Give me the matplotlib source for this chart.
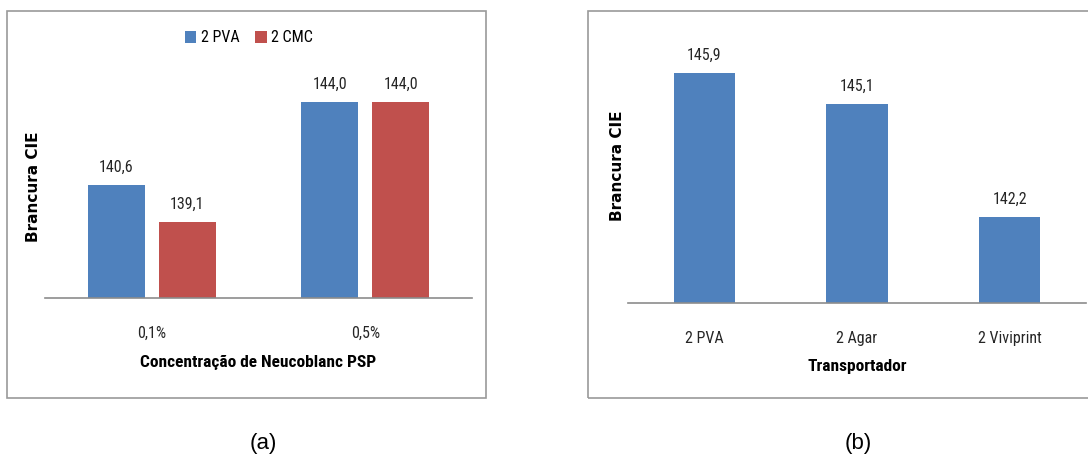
import matplotlib
matplotlib.use("Agg")
import matplotlib.pyplot as plt
from matplotlib import font_manager
from matplotlib.patches import Rectangle

# Data
conc_labels = ["0,1%", "0,5%"]
pva_values = [140.6, 144.0]
cmc_values = [139.1, 144.0]
series_names = ["2 PVA", "2 CMC"]

carrier_labels = ["2 PVA", "2 Agar", "2 Viviprint"]
carrier_values = [145.9, 145.1, 142.2]

BLUE = "#4F81BD"
RED = "#C0504D"
W, H = 1088, 458

# Prefer a narrow sans face for the chart text when one is installed
installed = {f.name for f in font_manager.fontManager.ttflist}
narrow_names = [n for n in ("Liberation Sans Narrow", "Roboto Condensed",
                            "Open Sans Condensed", "Noto Sans Condensed")
                if n in installed]
NARROW = narrow_names[:1] + ["Roboto", "DejaVu Sans"]
HAS_NARROW = bool(narrow_names)
SMALL = 11.5 if HAS_NARROW else 9.5
LABEL = 12.5 if HAS_NARROW else 10.5

fig = plt.figure(figsize=(W / 100, H / 100), dpi=100)


def px_axes(x0, x1, y_top, y_bot):
    return fig.add_axes([x0 / W, 1 - y_bot / H, (x1 - x0) / W, (y_bot - y_top) / H])


def frame(x0, x1, y0, y1):
    fig.patches.append(Rectangle((x0 / W, 1 - y1 / H), (x1 - x0) / W, (y1 - y0) / H,
                                 transform=fig.transFigure, fill=False,
                                 edgecolor="#9A9A9A", linewidth=1.2))


def style(ax):
    for s in ("top", "right", "left"):
        ax.spines[s].set_visible(False)
    ax.spines["bottom"].set_color("#8C8C8C")
    ax.spines["bottom"].set_linewidth(1.2)
    ax.set_yticks([])
    ax.tick_params(axis="x", length=0, pad=20, labelsize=SMALL, labelcolor="#262626")
    for t in ax.get_xticklabels():
        t.set_family(NARROW)


def label_bars(ax, bars, values):
    for b, v in zip(bars, values):
        ax.annotate(f"{v:.1f}".replace(".", ","),
                    (b.get_x() + b.get_width() / 2, b.get_height() + ax.get_ylim()[0]),
                    xytext=(0, 13), textcoords="offset points",
                    ha="center", va="center", fontsize=SMALL,
                    family=NARROW, color="#262626")


# Panel (a)
frame(7, 486, 11, 398)
ax1 = px_axes(45, 472, 53, 298)
base1 = 136
ax1.set_ylim(base1, 146)
ax1.set_xlim(-0.5, 1.5)
x1 = list(range(len(conc_labels)))
bw, off = 0.267, 0.167
b_pva = ax1.bar([x - off for x in x1], [v - base1 for v in pva_values], bw,
                bottom=base1, color=BLUE, label=series_names[0])
b_cmc = ax1.bar([x + off for x in x1], [v - base1 for v in cmc_values], bw,
                bottom=base1, color=RED, label=series_names[1])
ax1.set_xticks(x1, conc_labels)
style(ax1)
label_bars(ax1, b_pva, pva_values)
label_bars(ax1, b_cmc, cmc_values)
ax1.set_xlabel("Concentração de Neucoblanc PSP", fontsize=LABEL, fontweight="bold",
               family=NARROW)
ax1.xaxis.set_label_coords(0.5, -(363 - 298) / (298 - 53))
ax1.xaxis.label.set_va("center")
ax1.set_ylabel("Brancura CIE", fontsize=11, fontweight="bold", family="DejaVu Sans")
ax1.yaxis.set_label_coords(-(45 - 34) / 427, (298 - 187) / (298 - 53))
ax1.yaxis.label.set_va("center")
ax1.legend(loc="center", bbox_to_anchor=((249 - 45) / 427, (298 - 38) / (298 - 53)),
           ncol=2, frameon=False, handlelength=0.7, handleheight=0.7,
           handletextpad=0.3, columnspacing=1.0,
           prop={"family": NARROW, "size": SMALL})
fig.text(263 / W, 1 - 443 / H, "(a)", ha="center", va="center", fontsize=16,
         family="Liberation Sans")

# Panel (b)
frame(588, 1095, 11, 398)
ax2 = px_axes(628, 1086, 69, 303)
base2 = 140
ax2.set_ylim(base2, 146)
ax2.set_xlim(-0.5, 2.5)
x2 = list(range(len(carrier_labels)))
b_car = ax2.bar(x2, [v - base2 for v in carrier_values], 0.4, bottom=base2, color=BLUE)
ax2.set_xticks(x2, carrier_labels)
style(ax2)
label_bars(ax2, b_car, carrier_values)
ax2.set_xlabel("Transportador", fontsize=LABEL, fontweight="bold", family=NARROW)
ax2.xaxis.set_label_coords(0.5, -(366 - 303) / (303 - 69))
ax2.xaxis.label.set_va("center")
ax2.set_ylabel("Brancura CIE", fontsize=11, fontweight="bold", family="DejaVu Sans")
ax2.yaxis.set_label_coords(-(628 - 617) / 458, (303 - 166) / (303 - 69))
ax2.yaxis.label.set_va("center")
fig.text(858 / W, 1 - 443 / H, "(b)", ha="center", va="center", fontsize=16,
         family="Liberation Sans")

fig.savefig("out.png", dpi=100, facecolor="white")
